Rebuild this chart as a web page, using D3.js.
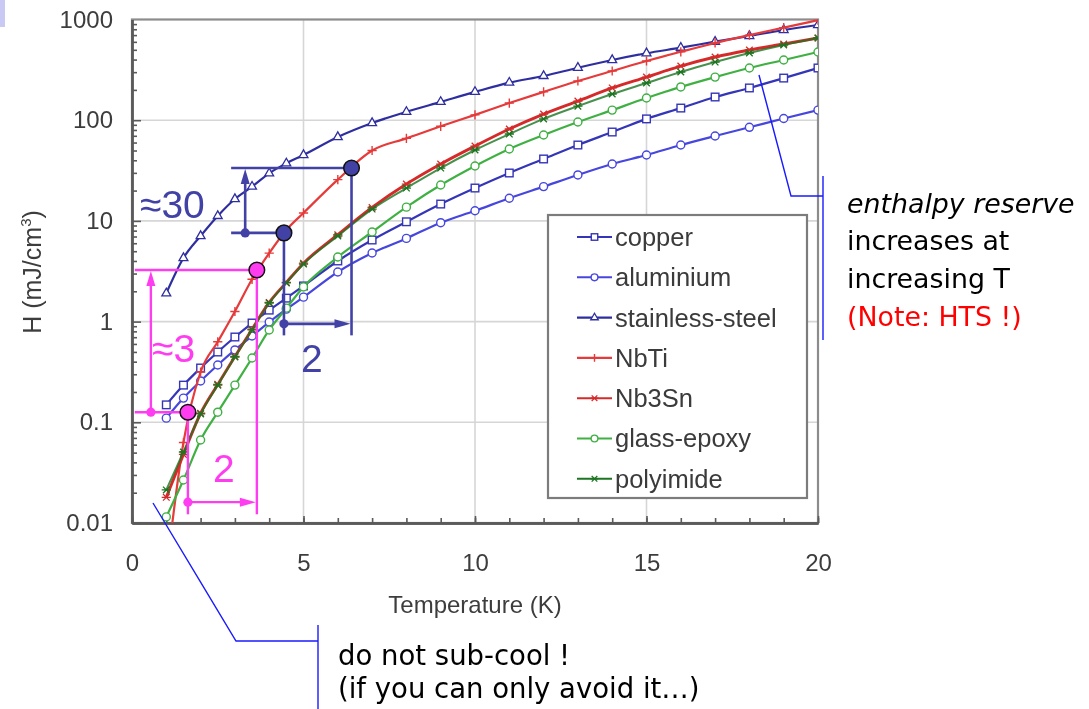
<!DOCTYPE html>
<html>
<head>
<meta charset="utf-8">
<script src="https://cdn.jsdelivr.net/npm/d3@7"></script>
<style>
  body { margin: 0; background: #fff; }
  svg { display: block; }
</style>
</head>
<body>
<svg id="chart" width="1089" height="709"></svg>
<script>
// Temperature grid (K): half-kelvin steps up to 5 K, then 1 K steps
const temps = [1, 1.5, 2, 2.5, 3, 3.5, 4, 4.5, 5, 6, 7, 8, 9, 10, 11, 12, 13, 14, 15, 16, 17, 18, 19, 20];

// Volumetric enthalpy H (mJ/cm^3) for each material at the temperatures above
const copper      = [0.149, 0.234, 0.346, 0.499, 0.703, 0.968, 1.30, 1.71, 2.26, 4.00, 6.46, 9.8, 14.7, 21.2, 29.9, 41.2, 56.7, 76.3, 103, 132, 170, 209, 262, 330];
const aluminium   = [0.110, 0.174, 0.257, 0.371, 0.523, 0.719, 0.99, 1.33, 1.75, 3.11, 4.8, 6.7, 9.6, 12.6, 16.8, 21.9, 28.6, 36.7, 45.1, 56.7, 69.7, 85, 104, 126];
const stainless   = [1.91, 4.28, 7.08, 11.2, 16.5, 21.9, 29.7, 37.3, 45.1, 68.1, 93.8, 121, 152, 191, 236, 275, 332, 396, 462, 525, 602, 686, 787, 882];
const nbti        = [0.0032, 0.063, 0.316, 0.63, 1.26, 2.63, 4.79, 8.13, 12.0, 25.7, 50, 66, 87, 113, 148, 191, 245, 308, 387, 478, 585, 700, 830, 985];
const nb3sn       = [0.018, 0.048, 0.123, 0.238, 0.45, 0.84, 1.55, 2.45, 3.8, 7.3, 13.6, 23.2, 36.7, 55.4, 81.8, 115, 155, 209, 268, 345, 424, 498, 571, 655];
const glassEpoxy  = [0.0115, 0.0267, 0.0667, 0.126, 0.234, 0.435, 0.826, 1.36, 2.21, 4.38, 7.76, 13.7, 22.7, 35.1, 51.8, 71.3, 95.9, 126, 166, 214, 268, 330, 396, 476];
const polyimide   = [0.0213, 0.0507, 0.121, 0.234, 0.445, 0.826, 1.53, 2.42, 3.73, 7.08, 13.1, 21.2, 33.5, 50.6, 72.9, 103, 138, 182, 234, 301, 378, 465, 558, 655];

const seriesNames = ["copper", "aluminium", "stainless-steel", "NbTi", "Nb3Sn", "glass-epoxy", "polyimide"];

// Axis ticks
const xMajor = [0, 5, 10, 15, 20];
const xMinor = d3.range(0, 21, 1);
const yMajor = [0.01, 0.1, 1, 10, 100, 1000];
const yMajorLabels = ["0.01", "0.1", "1", "10", "100", "1000"];

// Two-kelvin temperature steps marked on the NbTi curve (T in K, H in mJ/cm^3)
const stepLow  = [{ T: 1.63, H: 0.126 }, { T: 3.64, H: 3.25 }];
const stepHigh = [{ T: 4.43, H: 7.6 }, { T: 6.4, H: 33.5 }];

const svg = d3.select("#chart");

const x = d3.scaleLinear().domain([0, 20]).range([132, 818]);
const y = d3.scaleLog().domain([0.01, 1000]).range([523, 19.5]);

const yMinor = [];
for (let e = -2; e < 3; e++) for (let m = 2; m <= 9; m++) yMinor.push(m * Math.pow(10, e));

// soft rendering for the plotted figure
const defs = svg.append("defs");
defs.append("filter").attr("id", "soft").attr("x", "-5%").attr("y", "-5%").attr("width", "110%").attr("height", "110%")
  .append("feGaussianBlur").attr("stdDeviation", 0.45);

// corner tab
svg.append("rect").attr("x", 0).attr("y", 0).attr("width", 5).attr("height", 27).attr("fill", "#c9c9f3");

const fig = svg.append("g").attr("filter", "url(#soft)");

// grid
const grid = fig.append("g").attr("stroke", "#d6d6d6").attr("stroke-width", 1.6);
grid.selectAll(".gx").data(xMajor.slice(1, -1)).join("line")
  .attr("x1", d => x(d)).attr("x2", d => x(d)).attr("y1", y(1000)).attr("y2", y(0.01));
grid.selectAll(".gy").data(yMajor.slice(1, -1)).join("line")
  .attr("x1", x(0)).attr("x2", x(20)).attr("y1", d => y(d)).attr("y2", d => y(d));

// frame (top/right)
fig.append("rect").attr("x", x(0)).attr("y", y(1000))
  .attr("width", x(20) - x(0)).attr("height", y(0.01) - y(1000))
  .attr("fill", "none").attr("stroke", "#8c8c8c").attr("stroke-width", 2.2);

const tickFont = "Liberation Sans, Arial, sans-serif";

// y axis
const yAxMinor = fig.append("g").attr("transform", `translate(${x(0)},0)`)
  .call(d3.axisLeft(y).tickValues(yMinor).tickSize(-5).tickSizeOuter(0).tickFormat(""));
const yAxMajor = fig.append("g").attr("transform", `translate(${x(0)},0)`)
  .call(d3.axisLeft(y).tickValues(yMajor).tickSize(-9).tickSizeOuter(0).tickPadding(19)
    .tickFormat((d, i) => yMajorLabels[i]));

// x axis
const xAxMinor = fig.append("g").attr("transform", `translate(0,${y(0.01)})`)
  .call(d3.axisBottom(x).tickValues(xMinor).tickSize(-5).tickSizeOuter(0).tickFormat(""));
const xAxMajor = fig.append("g").attr("transform", `translate(0,${y(0.01)})`)
  .call(d3.axisBottom(x).tickValues(xMajor).tickSize(-7).tickSizeOuter(0).tickPadding(31)
    .tickFormat(d3.format("d")));

[yAxMinor, yAxMajor, xAxMinor, xAxMajor].forEach(g => {
  g.select(".domain").attr("stroke", "#5a5a5a").attr("stroke-width", 2.4);
  g.selectAll(".tick line").attr("stroke", "#5a5a5a").attr("stroke-width", 1.6);
  g.selectAll("text").attr("font-family", tickFont).attr("font-size", 24).attr("fill", "#3c3c3c");
});
yAxMajor.selectAll(".tick line").filter(d => d === 1000).remove();

// axis titles
fig.append("text").attr("x", (x(0) + x(20)) / 2).attr("y", 613).attr("text-anchor", "middle")
  .attr("font-family", tickFont).attr("font-size", 24).attr("fill", "#3c3c3c").text("Temperature (K)");
const yt = fig.append("text").attr("transform", "translate(41,272) rotate(-90)").attr("text-anchor", "middle")
  .attr("font-family", tickFont).attr("font-size", 25).attr("fill", "#3c3c3c");
yt.append("tspan").text("H (mJ/cm");
yt.append("tspan").attr("font-size", 15).attr("dy", -10).text("3");
yt.append("tspan").attr("dy", 10).text(")");

// series
const series = [
  { name: seriesNames[0], values: copper,     color: "#3535b8", marker: "square",   width: 2.2 },
  { name: seriesNames[1], values: aluminium,  color: "#4646de", marker: "circle",   width: 2.2 },
  { name: seriesNames[2], values: stainless,  color: "#2f2fa0", marker: "triangle", width: 2.2 },
  { name: seriesNames[3], values: nbti,       color: "#e63a3a", marker: "plus",     width: 2.2 },
  { name: seriesNames[4], values: nb3sn,      color: "#d62c2c", marker: "star",     width: 2.9 },
  { name: seriesNames[5], values: glassEpoxy, color: "#3fb043", marker: "circle",   width: 2.2 },
  { name: seriesNames[6], values: polyimide,  color: "#1d7420", marker: "star",     width: 2.0 }
];

defs.append("clipPath").attr("id", "plotClip").append("rect")
  .attr("x", x(0)).attr("y", y(1000)).attr("width", x(20) - x(0)).attr("height", y(0.01) - y(1000));

const plot = fig.append("g").attr("clip-path", "url(#plotClip)");
const line = d3.line().x(d => x(d[0])).y(d => y(d[1])).curve(d3.curveMonotoneX);

function drawMarker(g, kind, color, cx, cy, s) {
  const k = s || 1;
  if (kind === "square") {
    g.append("rect").attr("x", cx - 3.8 * k).attr("y", cy - 3.8 * k).attr("width", 7.6 * k).attr("height", 7.6 * k)
      .attr("fill", "#fff").attr("stroke", color).attr("stroke-width", 1.4);
  } else if (kind === "circle") {
    g.append("circle").attr("cx", cx).attr("cy", cy).attr("r", 4.0 * k)
      .attr("fill", "#fff").attr("stroke", color).attr("stroke-width", 1.4);
  } else if (kind === "triangle") {
    g.append("path").attr("transform", `translate(${cx},${cy})`)
      .attr("d", d3.symbol(d3.symbolTriangle, 34 * k * k)())
      .attr("fill", "#fff").attr("stroke", color).attr("stroke-width", 1.3);
  } else if (kind === "plus") {
    const r = 4.6 * k;
    g.append("path").attr("d", `M${cx - r},${cy}H${cx + r}M${cx},${cy - r}V${cy + r}`)
      .attr("stroke", color).attr("stroke-width", 1.4);
  } else if (kind === "star") {
    const r = 4.6 * k, q = r * 0.72;
    g.append("path").attr("d", `M${cx - r},${cy}H${cx + r}M${cx - q},${cy - q}L${cx + q},${cy + q}M${cx - q},${cy + q}L${cx + q},${cy - q}`)
      .attr("stroke", color).attr("stroke-width", 1.3);
  }
}

series.forEach(s => {
  const pts = temps.map((t, i) => [t, s.values[i]]);
  const g = plot.append("g");
  g.append("path").attr("d", line(pts)).attr("fill", "none").attr("stroke", s.color)
    .attr("stroke-width", s.width).attr("stroke-opacity", s.name === "polyimide" ? 0.8 : 1);
  pts.forEach(p => drawMarker(g, s.marker, s.color, x(p[0]), y(p[1])));
});

// legend
const lg = fig.append("g");
lg.append("rect").attr("x", 548).attr("y", 215).attr("width", 259).attr("height", 283)
  .attr("fill", "#fff").attr("stroke", "#7c7c7c").attr("stroke-width", 2.2);
series.forEach((s, i) => {
  const ly = 237 + i * 40.3;
  lg.append("line").attr("x1", 577).attr("x2", 612).attr("y1", ly).attr("y2", ly)
    .attr("stroke", s.color).attr("stroke-width", 2.1);
  drawMarker(lg, s.marker, s.color, 594.5, ly, 0.85);
  lg.append("text").attr("x", 615).attr("y", ly).attr("dy", "0.35em")
    .attr("font-family", tickFont).attr("font-size", 25.5).attr("fill", "#3a3a3a").text(s.name);
});

// temperature-step annotations
const annFont = "Liberation Sans, Arial, sans-serif";
function stepAnnotation(pair, color, opt) {
  const g = svg.append("g");
  const lo = pair[0], hi = pair[1];
  const xl = x(lo.T), yl = y(lo.H), xh = x(hi.T), yh = y(hi.H);
  const xStart = x(opt.leftT), xArrow = x(opt.arrowT);
  const yBottom = y(opt.bottomH), yArrow = y(opt.arrowH);
  const sw = opt.sw;
  // horizontal guides
  g.append("line").attr("x1", xStart).attr("x2", xh).attr("y1", yh).attr("y2", yh).attr("stroke", color).attr("stroke-width", sw);
  g.append("line").attr("x1", xStart).attr("x2", xl).attr("y1", yl).attr("y2", yl).attr("stroke", color).attr("stroke-width", sw);
  // vertical guides
  g.append("line").attr("x1", xl).attr("x2", xl).attr("y1", yl).attr("y2", yBottom).attr("stroke", color).attr("stroke-width", sw);
  g.append("line").attr("x1", xh).attr("x2", xh).attr("y1", yh).attr("y2", yBottom).attr("stroke", color).attr("stroke-width", sw);
  // vertical arrow (enthalpy step)
  g.append("line").attr("x1", xArrow).attr("x2", xArrow).attr("y1", yl).attr("y2", yh + 12).attr("stroke", color).attr("stroke-width", sw);
  g.append("path").attr("d", `M${xArrow},${yh + 1}L${xArrow - 4.5},${yh + 16}L${xArrow + 4.5},${yh + 16}Z`).attr("fill", color);
  g.append("circle").attr("cx", xArrow).attr("cy", yl).attr("r", 4.6).attr("fill", color);
  // horizontal arrow (temperature step)
  g.append("line").attr("x1", xl).attr("x2", xh - 12).attr("y1", yArrow).attr("y2", yArrow).attr("stroke", color).attr("stroke-width", sw);
  g.append("path").attr("d", `M${xh - 1},${yArrow}L${xh - 17},${yArrow - 4.5}L${xh - 17},${yArrow + 4.5}Z`).attr("fill", color);
  g.append("circle").attr("cx", xl).attr("cy", yArrow).attr("r", 4.6).attr("fill", color);
  // points on the curve
  [[xl, yl], [xh, yh]].forEach(p => g.append("circle").attr("cx", p[0]).attr("cy", p[1]).attr("r", 7.8)
    .attr("fill", color).attr("stroke", "#111").attr("stroke-width", 1.5));
  // labels
  g.append("text").attr("x", opt.dHx).attr("y", opt.dHy).attr("font-family", annFont).attr("font-size", 39)
    .attr("fill", color).text(opt.dHLabel);
  g.append("text").attr("x", opt.dTx).attr("y", opt.dTy).attr("font-family", annFont).attr("font-size", 39)
    .attr("fill", color).text("2");
}

stepAnnotation(stepHigh, "#4242a6", {
  leftT: 2.89, arrowT: 3.3, bottomH: 0.73, arrowH: 0.95, sw: 2.6,
  dHLabel: "\u224830", dHx: 140, dHy: 218, dTx: 301, dTy: 372
});
stepAnnotation(stepLow, "#ff3df0", {
  leftT: 0.08, arrowT: 0.55, bottomH: 0.0122, arrowH: 0.0161, sw: 2.4,
  dHLabel: "\u22483", dHx: 152, dHy: 362, dTx: 213, dTy: 482
});

// callouts
const callout = svg.append("g").attr("fill", "none").attr("stroke", "#1a1aff").attr("stroke-width", 1.4);
callout.append("path").attr("d", "M759,75L791,196L823,196");
callout.append("path").attr("d", "M823,176V340");
callout.append("path").attr("d", "M153,503L236,641L318,641");
callout.append("path").attr("d", "M318,625V709");

const noteFont = "DejaVu Sans, Verdana, sans-serif";
const rt = svg.append("g").attr("font-family", noteFont).attr("font-size", 26.8);
rt.append("text").attr("x", 847).attr("y", 213).attr("font-style", "italic").attr("fill", "#000").text("enthalpy reserve");
rt.append("text").attr("x", 847).attr("y", 250).attr("fill", "#000").text("increases at");
rt.append("text").attr("x", 847).attr("y", 288).attr("fill", "#000").text("increasing T");
rt.append("text").attr("x", 847).attr("y", 326).attr("fill", "#ff0000").text("(Note: HTS !)");

const bt = svg.append("g").attr("font-family", noteFont).attr("font-size", 27.5).attr("fill", "#000");
bt.append("text").attr("x", 338).attr("y", 665).text("do not sub-cool !");
bt.append("text").attr("x", 338).attr("y", 698).text("(if you can only avoid it\u2026)");
</script>
</body>
</html>
